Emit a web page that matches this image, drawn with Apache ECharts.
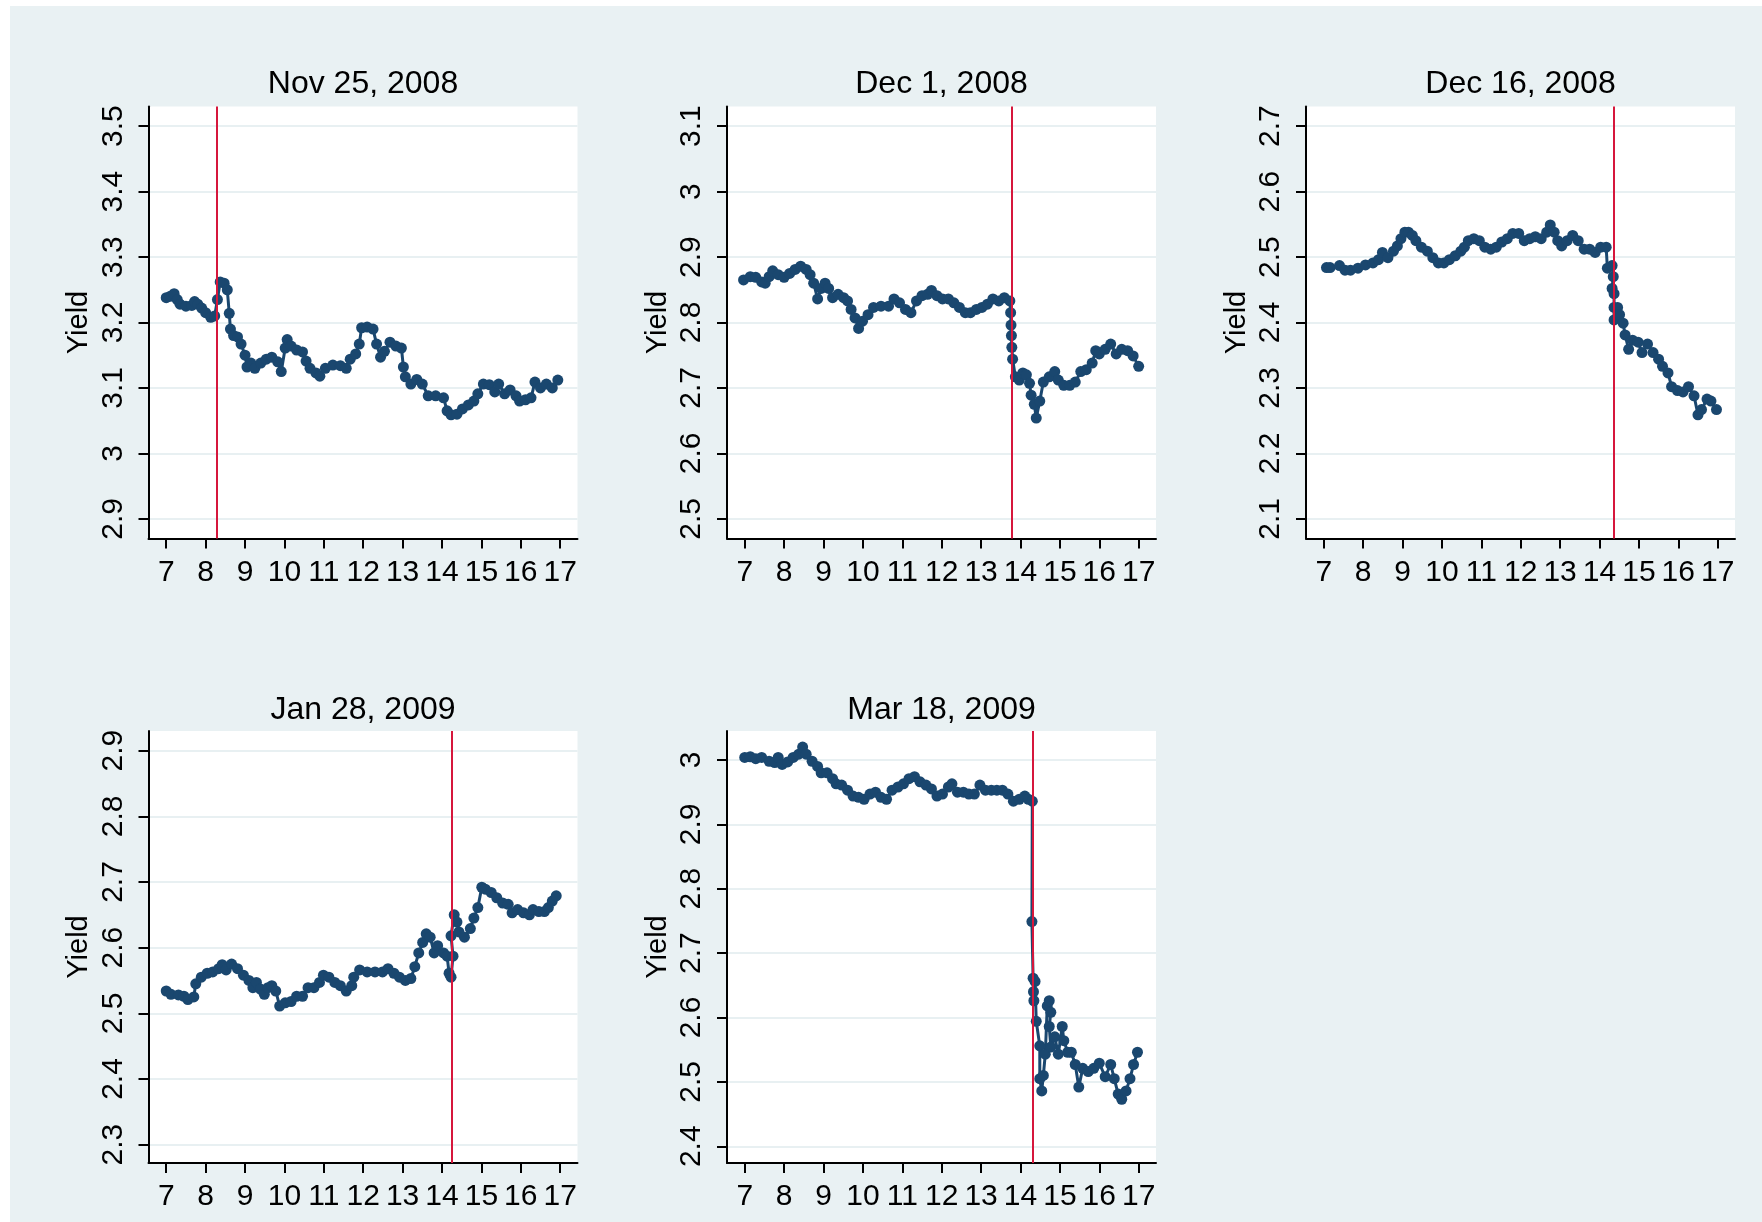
<!DOCTYPE html>
<html>
<head>
<meta charset="utf-8">
<script src="https://cdn.jsdelivr.net/npm/echarts@6/dist/echarts.min.js"></script>
<style>
  html, body { margin: 0; padding: 0; background: #ffffff; }
  #chart { position: absolute; left: 10px; top: 6px; width: 1752px; height: 1216px; }
</style>
</head>
<body>
<div id="chart"></div>
<script>
// intraday yield, [hour, yield]
const nov25 = [[7.0,3.238],[7.1,3.24],[7.2,3.244],[7.28,3.235],[7.35,3.228],[7.5,3.225],[7.65,3.226],[7.72,3.232],[7.8,3.228],[7.9,3.222],[8.0,3.215],[8.13,3.208],[8.23,3.21],[8.3,3.235],[8.37,3.262],[8.47,3.26],[8.55,3.25],[8.6,3.214],[8.63,3.19],[8.71,3.18],[8.81,3.178],[8.9,3.167],[9.0,3.15],[9.05,3.132],[9.15,3.138],[9.25,3.13],[9.4,3.138],[9.54,3.144],[9.68,3.147],[9.83,3.14],[9.92,3.125],[10.02,3.161],[10.07,3.174],[10.17,3.164],[10.31,3.158],[10.46,3.155],[10.55,3.141],[10.65,3.13],[10.8,3.123],[10.9,3.118],[11.04,3.13],[11.23,3.135],[11.42,3.134],[11.57,3.13],[11.67,3.144],[11.81,3.152],[11.9,3.167],[11.96,3.192],[12.1,3.193],[12.25,3.19],[12.34,3.167],[12.44,3.147],[12.54,3.156],[12.68,3.17],[12.83,3.164],[12.97,3.161],[13.02,3.132],[13.07,3.117],[13.21,3.106],[13.36,3.113],[13.5,3.106],[13.65,3.088],[13.84,3.088],[14.04,3.085],[14.13,3.065],[14.23,3.059],[14.38,3.06],[14.52,3.068],[14.67,3.074],[14.81,3.08],[14.91,3.091],[15.05,3.106],[15.2,3.105],[15.34,3.094],[15.44,3.106],[15.59,3.091],[15.73,3.097],[15.88,3.088],[15.97,3.08],[16.12,3.082],[16.26,3.085],[16.36,3.109],[16.5,3.1],[16.65,3.106],[16.8,3.1],[16.94,3.112]]

const dec1 = [[6.97,2.865],[7.14,2.87],[7.28,2.869],[7.43,2.862],[7.52,2.86],[7.62,2.87],[7.71,2.879],[7.85,2.873],[8.0,2.869],[8.14,2.875],[8.28,2.881],[8.42,2.886],[8.56,2.881],[8.66,2.873],[8.75,2.86],[8.85,2.836],[8.94,2.852],[9.04,2.86],[9.13,2.852],[9.23,2.838],[9.37,2.843],[9.51,2.838],[9.61,2.833],[9.7,2.82],[9.8,2.807],[9.89,2.791],[9.99,2.802],[10.13,2.812],[10.27,2.823],[10.46,2.825],[10.65,2.825],[10.79,2.836],[10.93,2.83],[11.08,2.82],[11.22,2.815],[11.36,2.833],[11.5,2.841],[11.64,2.843],[11.74,2.849],[11.88,2.841],[12.02,2.836],[12.17,2.836],[12.31,2.83],[12.45,2.823],[12.6,2.815],[12.73,2.815],[12.88,2.82],[13.02,2.823],[13.16,2.828],[13.3,2.836],[13.45,2.833],[13.59,2.838],[13.73,2.833],[13.75,2.815],[13.76,2.796],[13.77,2.78],[13.78,2.762],[13.8,2.744],[13.87,2.717],[13.97,2.712],[14.06,2.723],[14.15,2.72],[14.23,2.707],[14.27,2.689],[14.35,2.675],[14.4,2.654],[14.49,2.68],[14.58,2.709],[14.73,2.717],[14.87,2.725],[14.96,2.712],[15.1,2.704],[15.25,2.704],[15.39,2.709],[15.53,2.725],[15.67,2.728],[15.82,2.738],[15.91,2.757],[16.0,2.752],[16.15,2.759],[16.29,2.767],[16.43,2.752],[16.57,2.759],[16.72,2.757],[16.86,2.749],[17.0,2.733]]

const dec16 = [[7.07,2.484],[7.16,2.484],[7.4,2.487],[7.54,2.48],[7.68,2.48],[7.87,2.483],[8.06,2.488],[8.25,2.491],[8.39,2.496],[8.49,2.507],[8.63,2.499],[8.77,2.509],[8.87,2.517],[8.96,2.528],[9.06,2.538],[9.15,2.538],[9.25,2.533],[9.34,2.525],[9.48,2.515],[9.63,2.509],[9.77,2.499],[9.91,2.491],[10.05,2.491],[10.19,2.496],[10.34,2.502],[10.48,2.509],[10.57,2.515],[10.67,2.525],[10.81,2.528],[10.95,2.525],[11.09,2.515],[11.24,2.512],[11.38,2.515],[11.52,2.523],[11.66,2.528],[11.8,2.536],[11.95,2.536],[12.09,2.525],[12.23,2.528],[12.37,2.531],[12.52,2.528],[12.66,2.538],[12.75,2.549],[12.85,2.538],[12.94,2.525],[13.04,2.517],[13.18,2.525],[13.32,2.533],[13.46,2.525],[13.61,2.512],[13.75,2.512],[13.89,2.507],[14.03,2.515],[14.17,2.515],[14.2,2.483],[14.32,2.487],[14.35,2.47],[14.32,2.452],[14.37,2.444],[14.37,2.423],[14.37,2.404],[14.46,2.423],[14.51,2.412],[14.6,2.399],[14.65,2.381],[14.74,2.359],[14.84,2.373],[14.98,2.37],[15.08,2.354],[15.22,2.367],[15.36,2.354],[15.5,2.344],[15.6,2.333],[15.74,2.323],[15.83,2.302],[15.98,2.296],[16.12,2.294],[16.26,2.302],[16.4,2.288],[16.5,2.259],[16.59,2.267],[16.73,2.283],[16.83,2.28],[16.97,2.267]]

const jan28 = [[7.0,2.534],[7.12,2.529],[7.31,2.528],[7.45,2.526],[7.55,2.521],[7.7,2.525],[7.75,2.545],[7.89,2.555],[8.04,2.561],[8.18,2.563],[8.33,2.568],[8.42,2.574],[8.52,2.566],[8.66,2.575],[8.81,2.568],[8.96,2.558],[9.1,2.55],[9.2,2.539],[9.29,2.547],[9.39,2.537],[9.49,2.529],[9.58,2.539],[9.68,2.542],[9.78,2.534],[9.88,2.511],[10.02,2.516],[10.17,2.518],[10.31,2.526],[10.46,2.526],[10.6,2.539],[10.75,2.539],[10.89,2.547],[10.99,2.558],[11.13,2.555],[11.28,2.547],[11.42,2.542],[11.57,2.534],[11.71,2.542],[11.76,2.555],[11.91,2.566],[12.1,2.563],[12.3,2.563],[12.49,2.563],[12.63,2.568],[12.78,2.561],[12.92,2.555],[13.07,2.55],[13.21,2.553],[13.31,2.571],[13.41,2.592],[13.51,2.608],[13.6,2.621],[13.7,2.616],[13.8,2.592],[13.89,2.603],[14.04,2.592],[14.13,2.587],[14.18,2.561],[14.23,2.555],[14.28,2.587],[14.23,2.618],[14.31,2.65],[14.38,2.639],[14.43,2.624],[14.57,2.616],[14.72,2.629],[14.81,2.645],[14.91,2.661],[15.01,2.692],[15.1,2.689],[15.25,2.684],[15.39,2.676],[15.54,2.668],[15.68,2.666],[15.78,2.653],[15.92,2.658],[16.07,2.653],[16.22,2.65],[16.31,2.658],[16.46,2.655],[16.6,2.655],[16.7,2.661],[16.8,2.671],[16.9,2.679]]

const mar18 = [[7.0,3.004],[7.14,3.005],[7.28,3.002],[7.43,3.004],[7.62,2.998],[7.76,2.996],[7.85,3.004],[7.95,2.993],[8.09,2.997],[8.23,3.004],[8.37,3.009],[8.47,3.02],[8.56,3.009],[8.71,2.998],[8.85,2.99],[8.94,2.98],[9.09,2.98],[9.23,2.971],[9.32,2.963],[9.46,2.961],[9.61,2.953],[9.75,2.944],[9.89,2.942],[10.03,2.939],[10.18,2.947],[10.32,2.95],[10.46,2.942],[10.6,2.939],[10.74,2.953],[10.89,2.958],[11.03,2.963],[11.17,2.971],[11.31,2.974],[11.45,2.966],[11.6,2.961],[11.74,2.955],[11.88,2.944],[12.02,2.947],[12.17,2.958],[12.26,2.963],[12.4,2.95],[12.55,2.95],[12.69,2.947],[12.83,2.947],[12.97,2.961],[13.11,2.953],[13.26,2.953],[13.4,2.953],[13.54,2.953],[13.68,2.947],[13.82,2.936],[13.97,2.939],[14.11,2.944],[14.2,2.939],[14.3,2.936],[14.29,2.749],[14.32,2.661],[14.33,2.64],[14.34,2.626],[14.37,2.656],[14.4,2.594],[14.49,2.556],[14.49,2.505],[14.54,2.486],[14.58,2.51],[14.63,2.543],[14.68,2.618],[14.73,2.626],[14.77,2.608],[14.73,2.586],[14.77,2.554],[14.87,2.57],[14.96,2.543],[15.06,2.586],[15.1,2.564],[15.2,2.546],[15.29,2.546],[15.39,2.527],[15.48,2.492],[15.58,2.521],[15.72,2.516],[15.86,2.521],[16.0,2.529],[16.15,2.508],[16.29,2.527],[16.38,2.505],[16.48,2.481],[16.57,2.473],[16.68,2.486],[16.78,2.505],[16.87,2.527],[16.97,2.546]]

const titles = ['Nov 25, 2008', 'Dec 1, 2008', 'Dec 16, 2008', 'Jan 28, 2009', 'Mar 18, 2009']
const eventHours = [8.28, 13.78, 14.36, 14.24, 14.3]
const hourTicks = [7, 8, 9, 10, 11, 12, 13, 14, 15, 16, 17]
const yTicks = [
  [2.9, 3, 3.1, 3.2, 3.3, 3.4, 3.5],
  [2.5, 2.6, 2.7, 2.8, 2.9, 3, 3.1],
  [2.1, 2.2, 2.3, 2.4, 2.5, 2.6, 2.7],
  [2.3, 2.4, 2.5, 2.6, 2.7, 2.8, 2.9],
  [2.4, 2.5, 2.6, 2.7, 2.8, 2.9, 3]
]
const yRanges = [[2.87, 3.53], [2.47, 3.13], [2.07, 2.73], [2.272, 2.93], [2.374, 3.045]]
const seriesData = [nov25, dec1, dec16, jan28, mar18]

// layout (page pixels, container is offset by 10,6)
const OX = 10, OY = 6
const lefts = [148.5, 727, 1306, 148.5, 727]
const tops = [106.5, 106.5, 106.5, 731, 731]
const W = 429, H = 432
const titleY = [84, 84, 84, 710, 710]

const font = "'Liberation Sans', Arial, sans-serif"
const navy = '#1a476f'

const chart = echarts.init(document.getElementById('chart'))

const grid = [], xAxis = [], yAxis = [], series = [], title = []
seriesData.forEach((data, i) => {
  grid.push({
    left: lefts[i] - OX, top: tops[i] - OY, width: W, height: H,
    show: true, backgroundColor: '#ffffff', borderWidth: 0
  })
  title.push({
    text: titles[i],
    left: lefts[i] - OX + W / 2 - 5,
    top: titleY[i] - OY - 21,
    textAlign: 'center',
    textStyle: { fontFamily: font, fontSize: 32, fontWeight: 'normal', color: '#000' }
  })
  xAxis.push({
    type: 'value', gridIndex: i, min: 6.55, max: 17.44,
    axisLine: { show: true, onZero: false, lineStyle: { color: '#000', width: 2 } },
    axisTick: { show: true, length: 10, lineStyle: { color: '#000', width: 2 }, customValues: hourTicks },
    axisLabel: { customValues: hourTicks, fontFamily: font, fontSize: 30, color: '#000', margin: 19 },
    splitLine: { show: false }
  })
  yAxis.push({
    type: 'value', gridIndex: i, min: yRanges[i][0], max: yRanges[i][1],
    name: 'Yield', nameLocation: 'middle', nameGap: 55, nameRotate: 90,
    nameTextStyle: { fontFamily: font, fontSize: 29, color: '#000' },
    axisLine: { show: true, onZero: false, lineStyle: { color: '#000', width: 2 } },
    axisTick: { show: true, length: 10, lineStyle: { color: '#000', width: 2 }, customValues: yTicks[i] },
    axisLabel: {
      customValues: yTicks[i], rotate: 90, margin: 20,
      fontFamily: font, fontSize: 30, color: '#000',
      formatter: v => String(Math.round(v * 10) / 10)
    },
    splitLine: { show: true, lineStyle: { color: '#e8f0f2', width: 2 } }
  })
  series.push({
    type: 'line', xAxisIndex: i, yAxisIndex: i, data: data,
    symbol: 'circle', symbolSize: 11, showAllSymbol: true,
    itemStyle: { color: navy },
    lineStyle: { color: navy, width: 3 },
    markLine: {
      silent: true, symbol: 'none', label: { show: false },
      lineStyle: { color: '#d6173c', width: 2, type: 'solid' },
      data: [{ xAxis: eventHours[i] }]
    }
  })
})

chart.setOption({
  backgroundColor: '#e9f1f3',
  animation: false,
  title, grid, xAxis, yAxis, series
})
</script>
</body>
</html>
